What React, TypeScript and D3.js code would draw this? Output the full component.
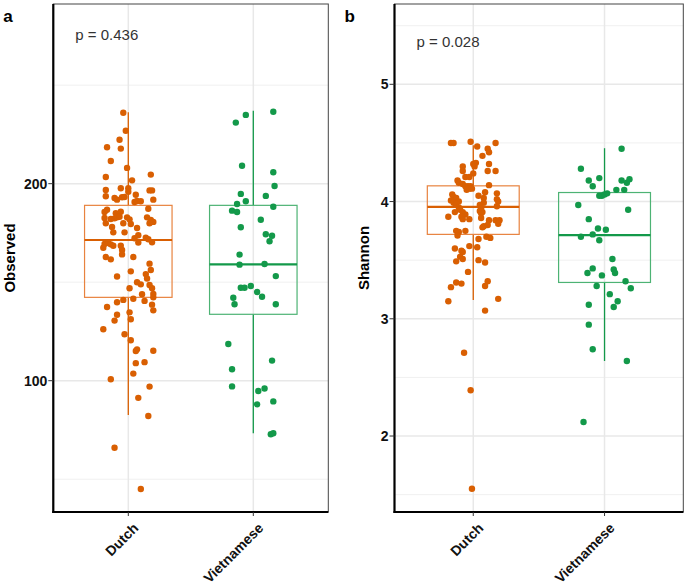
import React from 'react';
import * as d3 from 'd3';

// group names and colours
const groups = ['Dutch', 'Vietnamese'];
const dotColors = ['#d95f02', '#13994a'];
const boxColors = ['#e8833f', '#4db374'];

// [value, jitter], panel a (Observed)
const observedDutch: [number, number][] = [
  [236, -0.04], [226.9, -0.02], [222.3, -0.07], [218.5, -0.17], [217.8, -0.06], [211.5, -0.14],
  [208, -0.01], [204.6, 0.18], [203.4, -0.18], [201.7, 0.03], [197.7, -0.06], [197.7, 0.0],
  [195.9, 0.0], [196.8, -0.18], [196.6, 0.17], [196.6, 0.19], [193.6, -0.18], [194.4, 0.06],
  [192.7, -0.11], [191.9, -0.09], [193.1, -0.05], [193.2, -0.03], [191.9, 0.2], [190.7, 0.05],
  [191.2, 0.07], [191.1, 0.1], [187.3, 0.16], [186.8, -0.17], [185.6, -0.19], [185, -0.1],
  [185.8, -0.06], [182.6, -0.19], [182.1, -0.14], [182.4, -0.11], [182.9, -0.09], [183.2, -0.07],
  [182.9, -0.01], [181.9, 0.01], [182.9, 0.15], [181.6, 0.18], [180.6, 0.2], [179.9, -0.18],
  [179.9, -0.04], [179.5, 0.02], [179.9, 0.17], [178, -0.13], [177.5, 0.07],
  [175.3, -0.03], [175.3, -0.12], [173.8, 0.08], [172.3, 0.05], [172.6, 0.14], [171.8, 0.16],
  [170.3, 0.19], [170.1, 0.08], [169.4, -0.19], [169.9, -0.16], [169.2, -0.14], [168.5, -0.12],
  [167.5, -0.2], [168.5, -0.06], [166.3, -0.05], [164.1, -0.05], [162.8, -0.18], [161.6, -0.14],
  [162.8, 0.04], [159.4, 0.17], [156.2, 0.18], [155.5, 0.02], [154.1, 0.14], [151.9, 0.15],
  [152.9, -0.09], [150, 0.07], [148.9, 0.1], [148.6, 0.17], [146.9, 0.01], [146.9, 0.19],
  [143.9, 0.11], [144, 0.2], [142.3, 0.2], [141.6, 0.04], [141, -0.04], [140.5, 0.13],
  [139.8, -0.09], [137.4, -0.17], [138.6, 0.19], [135.7, 0.2], [133.5, -0.09], [134.7, 0.01],
  [131.2, 0.02], [130.5, -0.11], [126.1, -0.2], [123.6, -0.03], [120.5, 0.02], [115.9, 0.07],
  [115.1, 0.06], [115.2, 0.2], [108.9, 0.06], [109.4, 0.13], [103.6, 0.04], [100.7, -0.14],
  [97, 0.17], [91.3, 0.08], [82.1, 0.16], [66, -0.11], [45, 0.1]
];
const observedViet: [number, number][] = [
  [236.5, 0.16], [234.9, -0.06], [231, -0.14], [209.1, -0.09], [205.8, 0.16], [198.8, 0.17],
  [194.8, -0.1], [193.8, 0.1], [191.1, -0.06], [189.7, -0.13], [188.3, 0.16], [186.3, -0.17],
  [185.6, -0.13], [181.7, 0.06], [177.9, -0.1], [174.3, 0.1], [173.6, 0.15], [170.8, 0.13],
  [164, -0.11], [158.9, -0.11], [159.2, 0.09], [153.1, 0.18], [147.2, -0.1], [147.2, -0.07],
  [148.1, -0.02], [145, 0.03], [142.6, 0.07], [142.1, -0.16], [138.8, -0.15], [138.8, 0.18],
  [118.6, -0.2], [110.2, 0.15], [105.8, -0.17], [97.1, -0.17], [94.8, 0.04], [96, 0.09],
  [88, 0.03], [89.5, 0.16], [72.8, 0.14], [73.3, 0.16]
];

// panel b (Shannon)
const shannonDutch: [number, number][] = [
  [4.5, -0.17], [4.5, -0.15], [4.51, -0.02], [4.47, 0.03], [4.5, 0.17], [4.45, 0.11], [4.42, 0.12],
  [4.39, 0.07], [4.33, 0.02], [4.32, 0.0], [4.3, 0.01], [4.32, 0.12], [4.3, -0.08], [4.26, 0.11],
  [4.26, 0.17], [4.26, -0.08], [4.24, 0.0], [4.21, -0.06], [4.21, -0.03], [4.18, -0.12],
  [4.16, -0.11], [4.15, -0.08], [4.13, -0.06], [4.13, -0.04], [4.13, -0.02], [4.1, -0.05],
  [4.11, -0.03], [4.11, -0.01], [4.14, 0.12], [4.07, 0.18], [4.08, 0.09], [4.06, -0.16],
  [4.04, -0.15], [4.03, -0.13], [4.05, 0.04], [4.03, 0.08], [4.02, 0.18], [4.0, 0.19],
  [4.0, -0.11], [4.01, -0.17], [3.99, -0.15], [3.98, -0.13], [3.99, 0.08], [3.97, 0.05],
  [3.96, 0.18], [3.95, -0.11], [3.93, -0.1], [3.94, 0.06], [3.91, 0.07], [3.92, 0.05],
  [3.91, -0.14], [3.91, -0.08], [3.89, -0.06], [3.87, -0.19], [3.87, -0.09], [3.85, -0.08],
  [3.85, -0.03], [3.9, 0.06], [3.86, 0.06], [3.84, 0.12], [3.84, 0.17], [3.84, 0.2],
  [3.81, 0.19], [3.79, 0.08], [3.78, 0.07], [3.8, 0.11], [3.75, -0.13], [3.74, -0.11],
  [3.75, -0.06], [3.7, 0.1], [3.69, 0.13], [3.71, -0.12], [3.68, 0.04],
  [3.6, -0.14], [3.58, -0.09], [3.57, -0.08], [3.62, -0.03], [3.61, 0.03], [3.53, -0.1],
  [3.51, -0.08], [3.49, -0.13], [3.5, 0.04], [3.48, 0.09], [3.4, -0.04], [3.31, -0.13],
  [3.3, -0.09], [3.27, -0.17], [3.28, 0.09], [3.32, 0.11], [3.15, -0.19], [3.17, 0.19],
  [3.07, 0.09], [2.71, -0.07], [2.39, -0.02], [1.55, -0.01]
];
const shannonViet: [number, number][] = [
  [4.45, 0.13], [4.28, -0.18], [4.18, -0.12], [4.2, -0.04], [4.13, -0.09], [4.18, 0.13],
  [4.16, 0.17], [4.19, 0.19], [4.1, 0.09], [4.1, 0.15], [4.05, -0.04], [4.05, -0.02],
  [4.06, 0.0], [4.07, 0.02], [3.97, -0.2], [3.93, 0.18], [3.85, -0.12], [3.77, -0.05],
  [3.76, 0.01], [3.7, -0.18], [3.72, -0.09], [3.67, -0.04], [3.51, 0.06], [3.43, -0.09],
  [3.39, -0.13], [3.42, 0.07], [3.39, 0.08], [3.37, -0.02], [3.32, 0.16], [3.28, -0.06],
  [3.26, 0.2], [3.21, 0.04], [3.15, 0.1], [3.12, -0.12], [3.1, 0.07], [2.95, -0.12],
  [2.74, -0.09], [2.64, 0.17], [2.12, -0.16]
];

// box stats [lower whisker, q1, median, q3, upper whisker]
const observedBoxes = [
  [82.6, 142.3, 171.4, 189, 236.2],
  [73.3, 133.7, 159, 189, 237]
];
const shannonBoxes = [
  [3.16, 3.72, 3.955, 4.134, 4.48],
  [2.64, 3.31, 3.714, 4.077, 4.455]
];

const observedTicks = [100, 200];
const observedMinor = [50, 150, 250];
const shannonTicks = [2, 3, 4, 5];
const shannonMinor = [1.5, 2.5, 3.5, 4.5, 5.5];

const fontBold = 'Liberation Sans, Arial, sans-serif';

function Panel(props) {
  const { left, right, top, bottom, domain, ticks, minor, points, boxes, tag, title, titleX, pText, pY } = props;
  const x = d3.scaleLinear().domain([0.4, 2.6]).range([left, right]);
  const y = d3.scaleLinear().domain(domain).range([bottom, top]);
  const halfBox = 0.35;

  return (
    <g>
      {/* grid */}
      {minor.map(v => (
        <line key={'mi' + v} x1={left} x2={right} y1={y(v)} y2={y(v)} stroke="#f0f0f0" strokeWidth={1} />
      ))}
      {ticks.map(v => (
        <line key={'ma' + v} x1={left} x2={right} y1={y(v)} y2={y(v)} stroke="#e8e8e8" strokeWidth={1.5} />
      ))}
      {groups.map((g, i) => (
        <line key={'vg' + g} x1={x(i + 1)} x2={x(i + 1)} y1={top} y2={bottom} stroke="#e8e8e8" strokeWidth={1.5} />
      ))}

      {/* boxes */}
      {boxes.map((b, i) => {
        const cx = x(i + 1);
        const w = x(1 + halfBox) - x(1);
        return (
          <g key={'box' + i}>
            <line x1={cx} x2={cx} y1={y(b[3])} y2={y(b[4])} stroke={dotColors[i]} strokeWidth={1.3} />
            <line x1={cx} x2={cx} y1={y(b[0])} y2={y(b[1])} stroke={dotColors[i]} strokeWidth={1.3} />
            <rect x={cx - w} y={y(b[3])} width={2 * w} height={y(b[1]) - y(b[3])}
              fill="none" stroke={boxColors[i]} strokeWidth={1.2} />
            <line x1={cx - w} x2={cx + w} y1={y(b[2])} y2={y(b[2])} stroke={dotColors[i]} strokeWidth={2.2} />
          </g>
        );
      })}

      {/* points */}
      {points.map((arr, i) => arr.map((d, j) => (
        <circle key={'pt' + i + '-' + j} cx={x(i + 1 + d[1])} cy={y(d[0])} r={3.2} fill={dotColors[i]} />
      )))}

      {/* border */}
      <rect x={left} y={top} width={right - left} height={bottom - top} fill="none" stroke="#444" strokeWidth={1} />
      <line x1={left} x2={left} y1={top} y2={bottom + 1} stroke="#000" strokeWidth={2.2} />
      <line x1={left - 1} x2={right} y1={bottom} y2={bottom} stroke="#000" strokeWidth={2.2} />

      {/* y axis */}
      {ticks.map(v => (
        <g key={'yt' + v}>
          <line x1={left - 5} x2={left} y1={y(v)} y2={y(v)} stroke="#333" strokeWidth={1} />
          <text x={left - 6} y={y(v)} dy="0.36em" textAnchor="end" fontFamily={fontBold}
            fontWeight="bold" fontSize={14} fill="#111">{v}</text>
        </g>
      ))}
      <text transform={`translate(${titleX},${(top + bottom) / 2}) rotate(-90)`} textAnchor="middle"
        fontFamily={fontBold} fontWeight="bold" fontSize={15} fill="#000">{title}</text>

      {/* x axis */}
      {groups.map((g, i) => (
        <g key={'xt' + g}>
          <line x1={x(i + 1)} x2={x(i + 1)} y1={bottom} y2={bottom + 4} stroke="#333" strokeWidth={1} />
          <text transform={`translate(${x(i + 1) + 11},${bottom + 17}) rotate(-45)`} textAnchor="end"
            fontFamily={fontBold} fontWeight="bold" fontSize={14} fill="#111">{g}</text>
        </g>
      ))}

      <text x={left + 22} y={pY} fontFamily="Liberation Sans, Arial, sans-serif" fontSize={15} fill="#333">{pText}</text>
      <text x={left - 50} y={22} fontFamily={fontBold} fontWeight="bold" fontSize={17} fill="#000">{tag}</text>
    </g>
  );
}

export default function App() {
  return (
    <div style={{ position: 'absolute', left: 0, top: 0 }}>
      <svg width={685} height={588} style={{ display: 'block', background: '#fff' }}>
        <Panel left={53.3} right={328.3} top={4} bottom={512} domain={[33.35, 291.2]}
          ticks={observedTicks} minor={observedMinor} points={[observedDutch, observedViet]}
          boxes={observedBoxes} tag="a" title="Observed" titleX={15} pText="p = 0.436" pY={40} />
        <Panel left={394.5} right={683.3} top={4} bottom={512} domain={[1.352, 5.685]}
          ticks={shannonTicks} minor={shannonMinor} points={[shannonDutch, shannonViet]}
          boxes={shannonBoxes} tag="b" title="Shannon" titleX={369} pText="p = 0.028" pY={47} />
      </svg>
    </div>
  );
}
